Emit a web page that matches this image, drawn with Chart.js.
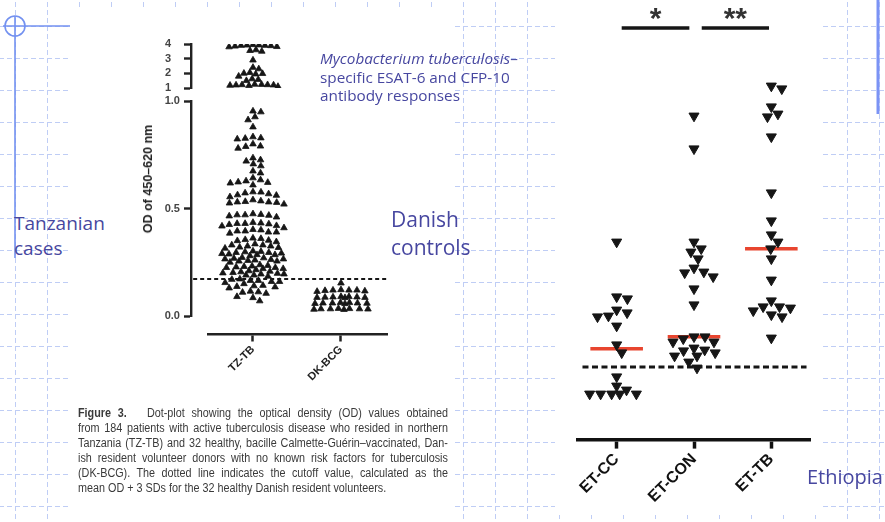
<!DOCTYPE html>
<html>
<head>
<meta charset="utf-8">
<script src="https://cdn.jsdelivr.net/npm/chart.js@4.4.1/dist/chart.umd.min.js"></script>
<style>
  html, body { margin: 0; padding: 0; background: #fff; }
  #slide { position: relative; width: 885px; height: 522px; overflow: hidden; background: #fff; }
  #deco { position: absolute; left: 0; top: 0; }
  canvas { position: absolute; }
  .say { position: absolute; white-space: nowrap; color: #4747a0; font-family: 'Open Sans', sans-serif; }
  #ytitle { position: absolute; left: 148px; top: 179px; white-space: nowrap;
    transform: translate(-50%, -50%) rotate(-90deg);
    font: bold 12.5px 'Liberation Sans', Arial, sans-serif; color: #222; }
  #caption { position: absolute; left: 78px; top: 406px; width: 411px;
    transform: scaleX(0.9); transform-origin: 0 0;
    font: 12px/15px 'Liberation Sans', Arial, sans-serif; color: #3a3a3a; }
  #caption div { white-space: nowrap; text-align: justify; text-align-last: justify; }
  #caption div.last { text-align-last: left; }
</style>
</head>
<body>
<div id="slide">
  <svg id="deco" width="885" height="522">
    <defs>
      <pattern id="grid" x="15" y="26" width="32" height="32" patternUnits="userSpaceOnUse">
        <path d="M0.5 0V32" stroke="#bfcdf5" stroke-width="1" stroke-dasharray="5 3" fill="none"/>
        <path d="M0 0.5H32" stroke="#bfcdf5" stroke-width="1" stroke-dasharray="5 3" fill="none"/>
      </pattern>
    </defs>
    <rect width="885" height="522" fill="url(#grid)"/>
    <rect x="70" y="10" width="384" height="512" fill="#fff"/>
    <rect x="555" y="0" width="265" height="515" fill="#fff"/>
    <g stroke="#7391f0" stroke-width="1.6" fill="none">
      <line x1="15" y1="16" x2="15" y2="258"/>
      <line x1="3" y1="26" x2="70" y2="26"/>
      <circle cx="15" cy="26" r="10"/>
    </g>
    <line x1="878" y1="0" x2="878" y2="114" stroke="#7b93f5" stroke-width="3"/>
  </svg>

  <canvas id="topCanvas" width="260" height="70" style="left:140px;top:30px"></canvas>
  <canvas id="lowCanvas" width="260" height="320" style="left:140px;top:90px"></canvas>
  <canvas id="etCanvas" width="265" height="515" style="left:555px;top:0px"></canvas>

  <div id="ytitle">OD of 450–620 nm</div>

  <div class="say" style="left:320px;top:49px;font-size:15.3px;line-height:18.5px">
    <i>Mycobacterium tuberculosis</i>–<br>specific ESAT-6 and CFP-10<br>antibody responses
  </div>
  <div class="say" style="left:14px;top:211px;font-size:19px;line-height:25px">Tanzanian<br>cases</div>
  <div class="say" style="left:391px;top:205px;font-size:21px;line-height:28px">Danish<br>controls</div>
  <div class="say" style="left:807px;top:467px;font-size:20px;line-height:20px">Ethiopia</div>

  <div id="caption">
    <div><b>Figure 3.</b>&nbsp;&nbsp; Dot-plot showing the optical density (OD) values obtained</div>
    <div>from 184 patients with active tuberculosis disease who resided in northern</div>
    <div>Tanzania (TZ-TB) and 32 healthy, bacille Calmette-Guérin–vaccinated, Dan-</div>
    <div>ish resident volunteer donors with no known risk factors for tuberculosis</div>
    <div>(DK-BCG). The dotted line indicates the cutoff value, calculated as the</div>
    <div class="last">mean OD + 3 SDs for the 32 healthy Danish resident volunteers.</div>
  </div>
</div>

<script>
// ---- data ----
const groupsLeft = ['TZ-TB', 'DK-BCG'];

// TZ-TB values above 1.0 (upper, compressed segment)
const tzTbHigh = [3.95, 3.92, 3.9, 3.9, 3.88, 3.85, 3.82, 3.8, 3.93, 3.6, 3.55, 3.5,
  2.9, 2.4, 2.3, 2.05, 2.0, 1.98, 1.95, 1.8, 1.62, 1.58, 1.5,
  1.25, 1.24, 1.22, 1.2, 1.2, 1.18, 1.16, 1.22, 1.1];

// TZ-TB values 0 - 1.0
const tzTbLow = [
  0.953, 0.949, 0.926, 0.912, 0.879,
  0.833, 0.828, 0.826, 0.823, 0.80, 0.79, 0.788, 0.78,
  0.735, 0.726, 0.72, 0.707, 0.698, 0.674, 0.665,
  0.642, 0.633, 0.628, 0.623, 0.621, 0.618, 0.609,
  0.577, 0.576, 0.572, 0.568, 0.563, 0.561, 0.554, 0.54,
  0.535, 0.53, 0.528, 0.525, 0.532, 0.52, 0.53,
  0.47, 0.472, 0.465, 0.468, 0.475, 0.46, 0.47,
  0.43, 0.432, 0.425, 0.435, 0.42, 0.428, 0.43, 0.418,
  0.40, 0.39, 0.395, 0.402, 0.385, 0.395, 0.41, 0.39,
  0.36, 0.355, 0.35, 0.362, 0.345, 0.352,
  0.33, 0.325, 0.32, 0.335, 0.318, 0.33, 0.315, 0.325,
  0.30, 0.302, 0.295, 0.29, 0.292, 0.285, 0.298, 0.28, 0.295, 0.285, 0.288,
  0.27, 0.265, 0.26, 0.272, 0.255, 0.262, 0.265, 0.25, 0.258, 0.255, 0.268,
  0.23, 0.235, 0.225, 0.22, 0.232, 0.215, 0.225, 0.22, 0.238, 0.21, 0.228,
  0.20, 0.205, 0.195, 0.202, 0.19, 0.198, 0.195, 0.185, 0.19, 0.208,
  0.17, 0.165, 0.16, 0.172, 0.155, 0.165, 0.16, 0.15,
  0.14, 0.135, 0.137, 0.13, 0.142,
  0.115, 0.11, 0.105, 0.112,
  0.09, 0.085, 0.07
];

const dkBcg = [0.153,
  0.122, 0.12, 0.118, 0.12, 0.116, 0.12, 0.114,
  0.088, 0.09, 0.086, 0.087, 0.09, 0.088, 0.085, 0.086,
  0.06, 0.062, 0.058, 0.06, 0.057, 0.06, 0.062, 0.059,
  0.033, 0.031, 0.034, 0.033, 0.03, 0.033, 0.035, 0.032];

const cutoffLeft = 0.172;

const groupsEt = ['ET-CC', 'ET-CON', 'ET-TB'];
const etCc = [0.495, 0.358, 0.353, 0.325, 0.318, 0.31, 0.308, 0.285, 0.238, 0.218,
  0.158, 0.135, 0.125, 0.115, 0.115, 0.115, 0.115, 0.115];
const etCon = [0.81, 0.728, 0.495, 0.478, 0.47, 0.453, 0.43, 0.418, 0.42, 0.408,
  0.378, 0.338, 0.258, 0.253, 0.245, 0.245, 0.258, 0.225, 0.23, 0.21, 0.21,
  0.218, 0.223, 0.195, 0.18];
const etTb = [0.878, 0.885, 0.833, 0.815, 0.808, 0.758, 0.618, 0.548, 0.513, 0.495,
  0.478, 0.453, 0.40, 0.348, 0.33, 0.333, 0.313, 0.308, 0.323, 0.333, 0.255];
const cutoffEt = 0.1825;

// significance brackets between groups
const sigFrom = [1.065, 2.1];
const sigTo = [1.94, 2.97];
const sigText = ['*', '**'];
const sigLevel = 1.03;

// ---- layout ----
const FONT = "'Liberation Sans', Arial, sans-serif";
const INK = '#161616';
const leftX = { min: 0.489, max: 2.523 };   // x-axis line spans the chart area
const leftYAxisAt = 0.2955;                 // y axis sits left of the x-axis start
const leftXAxisAt = -0.084;                 // x axis sits below 0.0
const leftPadX = { left: 68, right: 13 };
const leftW = 260 - leftPadX.left - leftPadX.right;
const lowH = 320 - 11 - 94;
const topH = 70 - 14 - 12;

const etX = { min: 0.5, max: 3.5 };
const etYMax = 1.08;
const etW = 265 - 23 - 10;
const etH = 515 - 8 - 75;

// dot-plot layout: push points sideways (w x h px footprint) within +-maxHalf px,
// letting them overlap once the column is full, like Prism does
function swarm(values, center, pxX, pxY, w, h, maxHalf) {
  const placed = [];
  const score = (c, y, near) => near.reduce((m, p) =>
    Math.min(m, ((p.x - c) / w) ** 2 + ((p.y - y) / h) ** 2), Infinity);
  [...values].sort((a, b) => b - a).forEach(v => {
    const y = v * pxY;
    const near = placed.filter(p => Math.abs(p.y - y) < h);
    let cands = [0];
    near.forEach(p => {
      const dx = w * Math.sqrt(1 - ((p.y - y) / h) ** 2);
      cands.push(p.x + dx, p.x - dx);
    });
    cands = cands.filter(c => Math.abs(c) <= maxHalf + 0.01)
      .sort((a, b) => Math.abs(a) - Math.abs(b));
    let x = cands.find(c => score(c, y, near) >= 0.999);
    if (x === undefined) {
      let best = -1;
      for (let c = -maxHalf; c <= maxHalf; c += 1) {
        const s = score(c, y, near);
        if (s > best) { best = s; x = c; }
      }
    }
    placed.push({ x, y, v });
  });
  return placed.map(p => ({ x: center + p.x / pxX, y: p.v }));
}

function median(arr) {
  const s = [...arr].sort((a, b) => a - b);
  const m = Math.floor(s.length / 2);
  return s.length % 2 ? s[m] : (s[m - 1] + s[m]) / 2;
}

const pxXLeft = leftW / (leftX.max - leftX.min);
const pxXEt = etW / (etX.max - etX.min);

const upMarker = {
  pointStyle: 'triangle', pointRadius: 3.8, pointHoverRadius: 3.8,
  backgroundColor: INK, borderColor: INK, borderWidth: 0.8
};
const downMarker = {
  pointStyle: 'triangle', pointRotation: 180, pointRadius: 5.8, pointHoverRadius: 5.8,
  backgroundColor: INK, borderColor: INK, borderWidth: 1
};
const flatLine = (pts, color, width, dash) => ({
  type: 'line', data: pts, borderColor: color, borderWidth: width,
  borderDash: dash || [], pointRadius: 0, fill: false, tension: 0, clip: false
});

// y labels of an axis placed by value are drawn flush with the line, so pad them
const padLabel = (text, n) => text + '\u2009'.repeat(n);

const axisTicks = (size, color) => ({ font: { family: FONT, size: size, weight: 'bold' }, color: color });
const common = {
  responsive: false, animation: false, devicePixelRatio: 1, events: [],
  plugins: { legend: { display: false }, tooltip: { enabled: false } }
};

Chart.defaults.font.family = FONT;

// upper segment (1-4)
new Chart(document.getElementById('topCanvas'), {
  type: 'scatter',
  data: { datasets: [{ data: swarm(tzTbHigh, 1, pxXLeft, topH / 3, 6, 6, 25), ...upMarker }] },
  options: {
    ...common,
    layout: { padding: { left: leftPadX.left, right: leftPadX.right, top: 14, bottom: 12 } },
    scales: {
      x: { display: false, min: leftX.min, max: leftX.max },
      y: {
        min: 1, max: 4, position: { x: leftYAxisAt },
        ticks: { stepSize: 1, autoSkip: false, callback: v => padLabel(String(v), 9), ...axisTicks(11, '#444') },
        grid: { drawOnChartArea: false, tickLength: 6, tickWidth: 2.4, tickColor: '#222' },
        border: { display: true, width: 2.4, color: '#222' }
      }
    }
  }
});

// lower segment (0-1.0) with both groups
new Chart(document.getElementById('lowCanvas'), {
  type: 'scatter',
  data: {
    datasets: [
      { data: swarm(tzTbLow, 1, pxXLeft, lowH, 8, 6, 31), ...upMarker },
      { data: swarm(dkBcg, 2, pxXLeft, lowH, 8, 6, 27), ...upMarker },
      flatLine([{ x: leftYAxisAt + 0.025, y: cutoffLeft }, { x: leftX.max, y: cutoffLeft }], INK, 2.2, [4, 3])
    ]
  },
  options: {
    ...common,
    layout: { padding: { left: leftPadX.left, right: leftPadX.right, top: 11, bottom: 94 } },
    scales: {
      x: {
        min: leftX.min, max: leftX.max, position: { y: leftXAxisAt },
        afterBuildTicks: axis => { axis.ticks = groupsLeft.map((g, i) => ({ value: i + 1 })); },
        ticks: { callback: v => groupsLeft[v - 1], minRotation: 45, maxRotation: 45, autoSkip: false,
          padding: 3, ...axisTicks(11, '#222') },
        grid: { drawOnChartArea: false, tickLength: 6, tickWidth: 2.5, tickColor: '#222' },
        border: { display: true, width: 2.5, color: '#222' }
      },
      y: {
        min: 0, max: 1, position: { x: leftYAxisAt },
        ticks: { stepSize: 0.5, autoSkip: false, callback: v => padLabel(v.toFixed(1), 5), ...axisTicks(11, '#444') },
        grid: { drawOnChartArea: false, tickLength: 6, tickWidth: 2.4, tickColor: '#222' },
        border: { display: true, width: 2.4, color: '#222' }
      }
    }
  }
});

// Ethiopian groups
const etGroups = [etCc, etCon, etTb];
const sigLabels = {
  id: 'sigLabels',
  afterDatasetsDraw(chart) {
    const { ctx, scales: { x, y } } = chart;
    ctx.save();
    ctx.font = 'bold 30px ' + FONT;
    ctx.fillStyle = '#333';
    ctx.textAlign = 'center';
    ctx.textBaseline = 'alphabetic';
    sigText.forEach((t, i) => {
      ctx.fillText(t, x.getPixelForValue((sigFrom[i] + sigTo[i]) / 2), y.getPixelForValue(sigLevel));
    });
    ctx.restore();
  }
};

new Chart(document.getElementById('etCanvas'), {
  type: 'scatter',
  data: {
    datasets: [
      ...etGroups.map((g, i) => ({ data: swarm(g, i + 1, pxXEt, etH / etYMax, 11, 9, 27), ...downMarker })),
      ...etGroups.map((g, i) => flatLine([{ x: i + 0.66, y: median(g) }, { x: i + 1.34, y: median(g) }], '#e8452f', 3.5)),
      flatLine([{ x: 0.558, y: cutoffEt }, { x: 3.455, y: cutoffEt }], INK, 3.2, [6, 3.5]),
      ...sigText.map((t, i) => flatLine([{ x: sigFrom[i], y: sigLevel }, { x: sigTo[i], y: sigLevel }], INK, 3.6))
    ]
  },
  options: {
    ...common,
    layout: { padding: { left: 23, right: 10, top: 8, bottom: 75 } },
    scales: {
      x: {
        min: etX.min, max: etX.max, position: { y: 0 },
        afterBuildTicks: axis => { axis.ticks = groupsEt.map((g, i) => ({ value: i + 1 })); },
        ticks: { callback: v => groupsEt[v - 1], minRotation: 45, maxRotation: 45, autoSkip: false,
          padding: 3, ...axisTicks(16, '#111') },
        grid: { drawOnChartArea: false, tickLength: 7, tickWidth: 3.5, tickColor: '#111' },
        border: { display: true, width: 3.6, color: '#111' }
      },
      y: { display: false, min: 0, max: etYMax }
    }
  },
  plugins: [sigLabels]
});
</script>
</body>
</html>
